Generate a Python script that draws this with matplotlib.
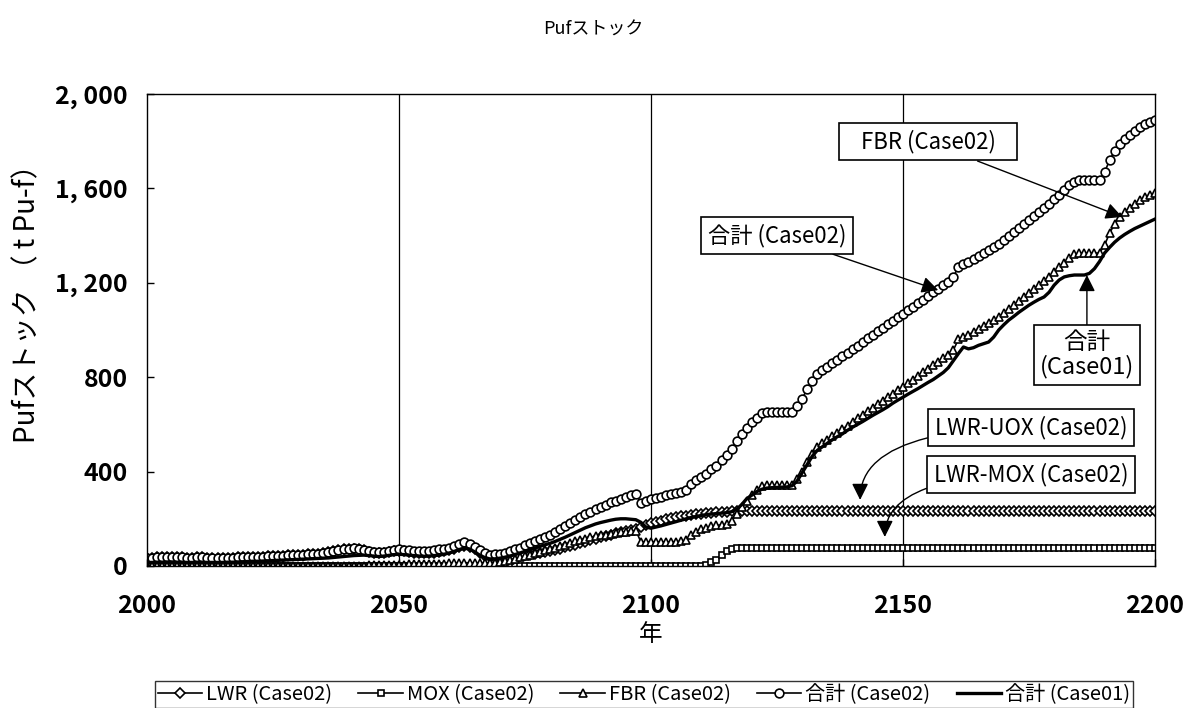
import matplotlib
matplotlib.use("Agg")
import matplotlib.pyplot as plt
from matplotlib.ticker import FixedLocator, FuncFormatter

plt.rcParams['font.family'] = ['Noto Sans CJK JP', 'DejaVu Sans']

years = list(range(2000, 2201))

# LWR-UOX stock (Case02)
lwr_case02 = [
    35, 35, 36, 36, 37, 37, 36, 36, 35, 35,
    36, 36, 35, 35, 34, 34, 35, 35, 36, 37,
    38, 39, 40, 40, 41, 42, 43, 44, 45, 46,
    47, 48, 49, 50, 52, 55, 58, 62, 66, 70,
    72, 74, 72, 66, 60, 56, 55, 57, 60, 63,
    64, 63, 60, 57, 55, 54, 55, 57, 60, 63,
    66, 72, 80, 86, 82, 70, 55, 42, 36, 35,
    35, 36, 38, 40, 42, 45, 48, 51, 55, 58,
    62, 67, 73, 79, 85, 91, 97, 103, 109, 115,
    121, 127, 133, 138, 143, 147, 152, 157, 165, 172,
    180, 186, 192, 197, 202, 206, 210, 213, 216, 219,
    222, 224, 226, 228, 229, 230, 231, 232, 233, 233,
] + [233] * 81

# LWR-MOX stock (Case02)
mox_case02 = [0] * 111 + [5, 15, 25, 45, 65, 74] + [76] * 84

# FBR stock (Case02)
fbr_case02 = [0] * 40 + [
    1, 1, 2, 2, 3, 3, 4, 4, 5, 5,
    6, 6, 7, 7, 8, 8, 9, 9, 10, 10,
    11, 12, 13, 14, 13, 12, 11, 11, 12, 14,
    16, 20, 25, 30, 36, 42, 48, 54, 60, 66,
    71, 77, 84, 91, 98, 104, 110, 116, 121, 126,
    130, 133, 136, 139, 142, 145, 148, 150, 102, 102,
    102, 102, 102, 102, 102, 103, 104, 108, 130, 145,
    155, 162, 168, 172, 174, 176, 190, 220, 250, 275,
    300, 320, 338, 343, 343, 343, 343, 343, 343, 370,
    400, 440, 475, 505, 520, 535, 550, 565, 580, 595,
    610, 625, 640, 655, 670, 685, 700, 715, 730, 746,
    760, 775, 790, 805, 820, 835, 850, 865, 880, 895,
    915, 960, 970, 980, 992, 1005, 1018, 1030, 1043, 1055,
    1072, 1089, 1106, 1123, 1140, 1157, 1174, 1191, 1208, 1225,
    1245, 1265, 1285, 1305, 1320, 1326, 1326, 1326, 1326, 1326,
    1360, 1410, 1450, 1480, 1500, 1518, 1535, 1550, 1563, 1573,
    1580,
]

# total stock (Case02)
total_case02 = [
    35, 35, 36, 36, 37, 37, 36, 36, 35, 35,
    36, 36, 35, 35, 34, 34, 35, 35, 36, 37,
    38, 39, 40, 40, 41, 42, 43, 44, 45, 46,
    47, 48, 49, 50, 52, 55, 58, 62, 66, 70,
    73, 75, 74, 68, 63, 59, 59, 61, 65, 68,
    70, 69, 67, 64, 63, 62, 64, 66, 70, 73,
    77, 84, 93, 100, 95, 82, 66, 53, 48, 49,
    51, 56, 63, 70, 78, 87, 96, 105, 115, 124,
    133, 144, 157, 170, 183, 195, 207, 219, 230, 241,
    251, 260, 269, 277, 285, 292, 300, 307, 267, 274,
    282, 288, 294, 299, 304, 309, 314, 321, 346, 364,
    377, 391, 409, 425, 448, 471, 495, 528, 559, 584,
    609, 629, 647, 652, 652, 652, 652, 652, 652, 679,
    709, 749, 784, 814, 829, 844, 859, 874, 889, 904,
    919, 934, 949, 964, 979, 994, 1009, 1024, 1039, 1055,
    1069, 1084, 1099, 1114, 1129, 1144, 1159, 1174, 1189, 1204,
    1224, 1269, 1279, 1289, 1301, 1314, 1327, 1339, 1352, 1364,
    1381, 1398, 1415, 1432, 1449, 1466, 1483, 1500, 1517, 1534,
    1554, 1574, 1594, 1614, 1629, 1635, 1635, 1635, 1635, 1635,
    1669, 1719, 1759, 1789, 1809, 1827, 1844, 1859, 1872, 1882,
    1889,
]

# total stock (Case01)
total_case01 = [
    15, 15, 16, 16, 17, 17, 16, 16, 15, 15,
    16, 16, 15, 15, 15, 15, 16, 16, 17, 18,
    19, 20, 20, 21, 22, 23, 24, 25, 26, 27,
    28, 29, 30, 31, 32, 33, 34, 36, 38, 40,
    42, 44, 45, 46, 44, 42, 40, 42, 45, 48,
    50, 48, 46, 44, 42, 41, 42, 44, 46, 50,
    55, 62, 70, 75, 72, 60, 46, 36, 30, 30,
    33, 37, 42, 48, 55, 62, 69, 76, 83, 90,
    96, 104, 113, 122, 132, 142, 152, 162, 170, 178,
    184, 189, 194, 198, 200, 200, 198, 196, 185, 165,
    160, 165, 170, 176, 182, 188, 194, 200, 206, 210,
    214, 218, 220, 222, 224, 226, 230, 240, 260, 285,
    300, 315, 325, 330, 332, 333, 334, 335, 340, 360,
    395, 430, 465, 490, 505, 520, 535, 548, 560, 575,
    588, 600, 612, 625, 638, 650, 662, 675, 690, 703,
    715, 728, 740, 752, 765, 778, 790, 805, 820, 840,
    870, 900, 928, 920, 925, 935, 942, 949, 970, 1000,
    1022, 1042, 1058, 1075, 1090, 1105, 1118, 1130, 1140, 1160,
    1190, 1212, 1225, 1230, 1233, 1233, 1233, 1240, 1260, 1290,
    1326, 1350, 1372, 1390, 1405, 1418, 1430, 1440, 1450, 1460,
    1470,
]

x_ticks = [2000, 2050, 2100, 2150, 2200]
y_ticks = [0, 400, 800, 1200, 1600, 2000]

fig = plt.figure(figsize=(11.87, 7.08), dpi=100)
ax = fig.add_axes([0.1238, 0.2006, 0.8492, 0.6666])

mk = dict(color='black', linewidth=1.2, markerfacecolor='white',
          markeredgecolor='black', markeredgewidth=1.2)
ax.plot(years, lwr_case02, marker='D', markersize=4.8, label='LWR (Case02)', **mk)
ax.plot(years, mox_case02, marker='s', markersize=5, label='MOX (Case02)', **mk)
ax.plot(years, fbr_case02, marker='^', markersize=6, label='FBR (Case02)', **mk)
ax.plot(years, total_case02, marker='o', markersize=6.3, label='合計 (Case02)', **mk)
ax.plot(years, total_case01, color='black', linewidth=2.4, label='合計 (Case01)')

# vertical grid at the inner year ticks
for gx in x_ticks[1:-1]:
    ax.axvline(gx, color='black', linewidth=0.9, zorder=0)

ax.set_xlim(2000, 2200)
ax.set_ylim(0, 2000)
ax.xaxis.set_major_locator(FixedLocator(x_ticks))
ax.yaxis.set_major_locator(FixedLocator(y_ticks))
ax.yaxis.set_major_formatter(FuncFormatter(lambda v, p: f"{v:,.0f}".replace(",", ", ")))
ax.tick_params(direction='in', length=5, width=1, labelsize=18)
ax.tick_params(axis='x', pad=20)
ax.tick_params(axis='y', pad=14)
for lbl in ax.get_xticklabels() + ax.get_yticklabels():
    lbl.set_fontweight('bold')
for sp in ax.spines.values():
    sp.set_linewidth(1.0)

ax.set_xlabel('年', fontsize=17, labelpad=4)
ax.set_ylabel('Pufストック （ t Pu-f）', fontsize=20)
ax.yaxis.set_label_coords(-0.104, 0.57)
fig.text(0.5, 0.958, 'Pufストック', ha='center', va='center', fontsize=13)

box = dict(boxstyle='square,pad=0.3', facecolor='white', edgecolor='black', linewidth=1.2)
arrow = dict(arrowstyle='-|>', color='black', linewidth=1.0, mutation_scale=25,
             shrinkA=0, shrinkB=0)

ax.annotate('   FBR (Case02)   ', xy=(2193.5, 1479), xytext=(2155, 1797),
            ha='center', va='center', fontsize=16, bbox=box, arrowprops=arrow)
ax.annotate('合計 (Case02)', xy=(2157, 1169), xytext=(2125, 1402),
            ha='center', va='center', fontsize=16, bbox=box, arrowprops=arrow)
ax.annotate('合計\n(Case01)', xy=(2186.5, 1233), xytext=(2186.5, 894),
            ha='center', va='center', fontsize=17, linespacing=1.05,
            bbox=dict(box, boxstyle='square,pad=0.25'), arrowprops=arrow)
ax.annotate('LWR-UOX (Case02)', xy=(2141.5, 280), xytext=(2175.4, 585),
            ha='center', va='center', fontsize=16, bbox=box,
            arrowprops=dict(arrow, connectionstyle='angle3,angleA=0,angleB=90'))
ax.annotate('LWR-MOX (Case02)', xy=(2146.4, 123), xytext=(2175.4, 386),
            ha='center', va='center', fontsize=16, bbox=box,
            arrowprops=dict(arrow, connectionstyle='angle3,angleA=0,angleB=90'))

leg = fig.legend(loc='center', bbox_to_anchor=(0.5425, 0.019), ncol=5,
                 fontsize=14.5, frameon=True, fancybox=False, edgecolor='black',
                 handlelength=2.2, handletextpad=0.2, columnspacing=1.3,
                 borderpad=0.15, numpoints=1)
leg.get_frame().set_linewidth(1.0)

fig.savefig('out.png', dpi=100, facecolor='white')
